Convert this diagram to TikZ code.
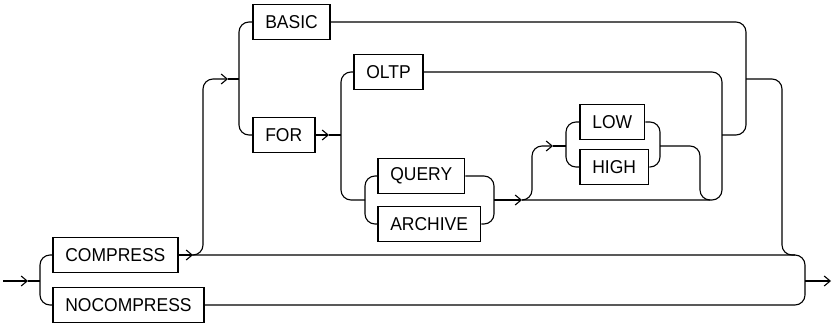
\documentclass[tikz,border=0pt]{standalone}
\usepackage{fontspec}
\setmainfont{Liberation Sans}[FakeStretch=0.94]
\usetikzlibrary{arrows.meta}

\tikzset{
  kw/.style={draw, line width=1.6pt, anchor=west, minimum height=35pt,
    inner xsep=12.5pt, inner ysep=0pt, font=\fontsize{18.6}{20}\selectfont},
  rail/.style={line width=1.1pt, rounded corners=10pt},
}

\begin{document}
\begin{tikzpicture}[x=1pt, y=-1pt, >={Straight Barb[length=6pt,width=10pt]}]
    \useasboundingbox (0,0) rectangle (832,327);
    % Keyword boxes
    \node[kw] (compress) at (52,255) {COMPRESS};
    \node[kw] (nocompress) at (52,305) {NOCOMPRESS};
    \node[kw] (basic) at (252,22) {BASIC};
    \node[kw] (for) at (252,135) {FOR};
    \node[kw] (oltp) at (353,72) {OLTP};
    \node[kw] (query) at (377,176) {QUERY};
    \node[kw] (archive) at (377,224) {ARCHIVE};
    \node[kw] (low) at (579,122) {LOW};
    \node[kw] (high) at (579,167) {HIGH};
    % Entry and exit points
    \coordinate (in) at (3,281);
    \coordinate (out) at (831,281);
    % Entry split
    \draw[rail,->] (in) -- (28,281);
    \draw[rail] (28,281) -- (40,281);
    \draw[rail] (compress.west) -| (40,305) -- (nocompress.west);
    % Main line and final merge
    \draw[rail,->] (compress.east) -- (193,255);
    \draw[rail] (193,255) -| (805,305) -- (nocompress.east);
    \draw[rail,->] (805,281) -- (out);
    % Upper branch: BASIC or FOR
    \draw[rail,->] (190,255) -| (203,79) -- (228,79);
    \draw[rail] (228,79) -- (239,79);
    \draw[rail] (basic.west) -| (239,135) -- (for.west);
    \draw[rail] (basic.east) -| (746,135) -- (722,135);
    \draw[rail] (746,79) -| (782,255) -- (795,255);
    % FOR: OLTP or QUERY/ARCHIVE
    \draw[rail,->] (for.east) -- (329,135);
    \draw[rail] (329,135) -- (341,135);
    \draw[rail] (oltp.west) -| (341,200) -- (365,200);
    \draw[rail] (oltp.east) -| (722,200) -- (522,200);
    % QUERY or ARCHIVE
    \draw[rail] (query.west) -| (365,224) -- (archive.west);
    \draw[rail] (query.east) -| (494,224) -- (archive.east);
    \draw[rail,->] (494,200) -- (522,200);
    % Optional LOW or HIGH
    \draw[rail,->] (522,200) -| (532,146) -- (553,146);
    \draw[rail] (553,146) -- (566,146);
    \draw[rail] (low.west) -| (566,167) -- (high.west);
    \draw[rail] (low.east) -| (660,167) -- (high.east);
    \draw[rail] (660,146) -| (700,200) -- (710,200);
\end{tikzpicture}
\end{document}
